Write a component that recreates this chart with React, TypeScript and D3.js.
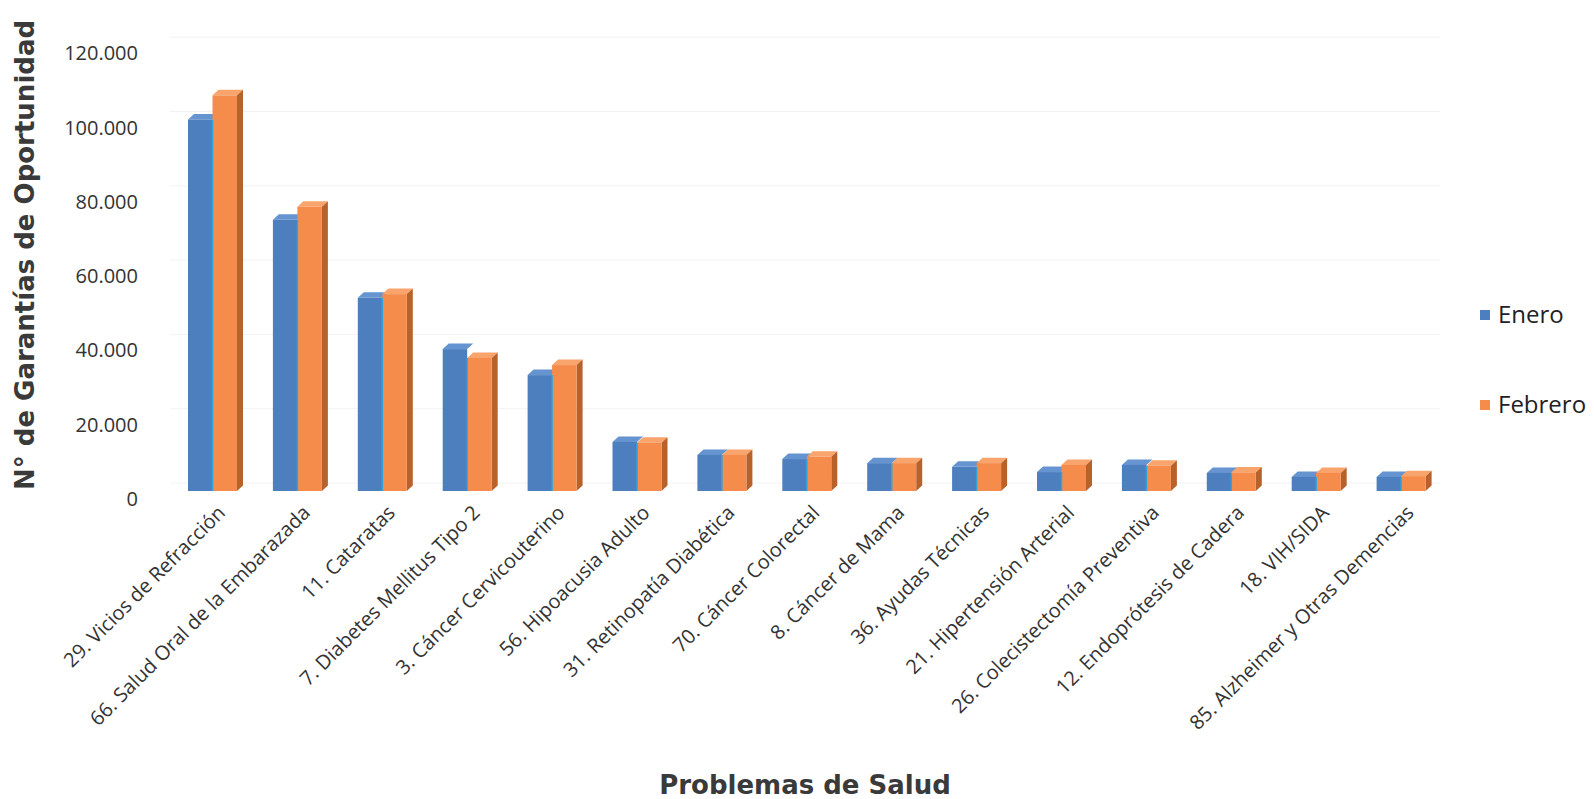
import React from "react";
import * as d3 from "d3";

const categories = [
  "29. Vicios de Refracción",
  "66. Salud Oral de la Embarazada",
  "11. Cataratas",
  "7. Diabetes Mellitus Tipo 2",
  "3. Cáncer Cervicouterino",
  "56. Hipoacusia Adulto",
  "31. Retinopatía Diabética",
  "70. Cáncer Colorectal",
  "8. Cáncer de Mama",
  "36. Ayudas Técnicas",
  "21. Hipertensión Arterial",
  "26. Colecistectomía Preventiva",
  "12. Endoprótesis de Cadera",
  "18. VIH/SIDA",
  "85. Alzheimer y Otras Demencias",
];

const enero = [100000, 73000, 52000, 38200, 31200, 13200, 9700, 8600, 7500, 6500, 5100, 7000, 4850, 3800, 3800];
const febrero = [106500, 76500, 53000, 35800, 33900, 13000, 9700, 9200, 7500, 7500, 7000, 6800, 5000, 4850, 4000];

const yTicks = [0, 20000, 40000, 60000, 80000, 100000, 120000];
const tickLabels = ["0", "20.000", "40.000", "60.000", "80.000", "100.000", "120.000"];

const seriesNames = ["Enero", "Febrero"];

const W = 1594;
const H = 799;

export default function App() {
  const y = d3.scaleLinear().domain([0, 120000]).range([491, 491 - 6 * 74.3]);
  const xc = d3.scalePoint<string>().domain(categories).range([212.5, 212.5 + 14 * 84.9]);
  const bw = 24.5;
  const ddx = 6;
  const ddy = 5.5;

  const blue = { front: "#4d7fbe", top: "#6594d0", side: "#2f5a8e" };
  const orange = { front: "#f58c4b", top: "#f9a46d", side: "#b8622b" };

  const sans = "'Open Sans', 'DejaVu Sans', sans-serif";
  const bold = "'DejaVu Sans', Verdana, sans-serif";

  const bar = (x0: number, v: number, c: typeof blue, key: string, side: boolean) => {
    const yt = y(v);
    const yb = y(0);
    const x1 = x0 + bw;
    return (
      <g key={key}>
        <polygon
          points={`${x0},${yt} ${x0 + ddx},${yt - ddy} ${x1 + ddx},${yt - ddy} ${x1},${yt}`}
          fill={c.top}
        />
        {side && (
          <polygon
            points={`${x1},${yt} ${x1 + ddx},${yt - ddy} ${x1 + ddx},${yb - ddy} ${x1},${yb}`}
            fill={c.side}
          />
        )}
        <rect x={x0} y={yt} width={bw} height={yb - yt} fill={c.front} />
      </g>
    );
  };

  return (
    <svg
      width={W}
      height={H}
      style={{ position: "absolute", left: 0, top: 0, background: "#fff" }}
    >
      {/* gridlines */}
      {yTicks.map((t) => (
        <line
          key={"g" + t}
          x1={170}
          x2={1440}
          y1={y(t) - 8}
          y2={y(t) - 8}
          stroke="#f2f2f2"
          strokeWidth={1}
        />
      ))}
      {/* y tick labels */}
      {yTicks.map((t, i) => (
        <text
          key={"t" + t}
          x={138}
          y={y(t) + 8}
          dy="0.35em"
          textAnchor="end"
          fontFamily={sans}
          fontSize={20}
          fill="#333"
        >
          {tickLabels[i]}
        </text>
      ))}
      {/* bars */}
      {categories.map((c, i) => {
        const cx = xc(c) as number;
        const xe = cx - bw;
        const xf = cx;
        return (
          <g key={c}>
            {bar(xe, enero[i], blue, "e", false)}
            {bar(xf, febrero[i], orange, "f", true)}
            <line
              x1={cx}
              x2={cx}
              y1={y(Math.min(enero[i], febrero[i]))}
              y2={y(0)}
              stroke="#2ea3e0"
              strokeWidth={1.5}
            />
          </g>
        );
      })}
      {/* x labels */}
      {categories.map((c) => {
        const cx = xc(c) as number;
        return (
          <text
            key={"l" + c}
            transform={`translate(${cx + 14},${514}) rotate(-45)`}
            textAnchor="end"
            fontFamily={sans}
            fontSize={20}
            fill="#333"
          >
            {c}
          </text>
        );
      })}
      {/* axis titles */}
      <text
        transform={`translate(34,255) rotate(-90)`}
        textAnchor="middle"
        fontFamily={bold}
        fontWeight="bold"
        fontSize={26}
        fill="#3a3a3a"
      >
        N° de Garantías de Oportunidad
      </text>
      <text
        x={805}
        y={794}
        textAnchor="middle"
        fontFamily={bold}
        fontWeight="bold"
        fontSize={26}
        fill="#3a3a3a"
      >
        Problemas de Salud
      </text>
      {/* legend */}
      {seriesNames.map((s, i) => (
        <g key={s} transform={`translate(1480,${315 + i * 90})`}>
          <rect x={0} y={-5} width={10} height={10} fill={i === 0 ? blue.front : orange.front} />
          <text x={18} y={0} dy="0.35em" fontFamily={sans} fontSize={24} fill="#222">
            {s}
          </text>
        </g>
      ))}
    </svg>
  );
}
